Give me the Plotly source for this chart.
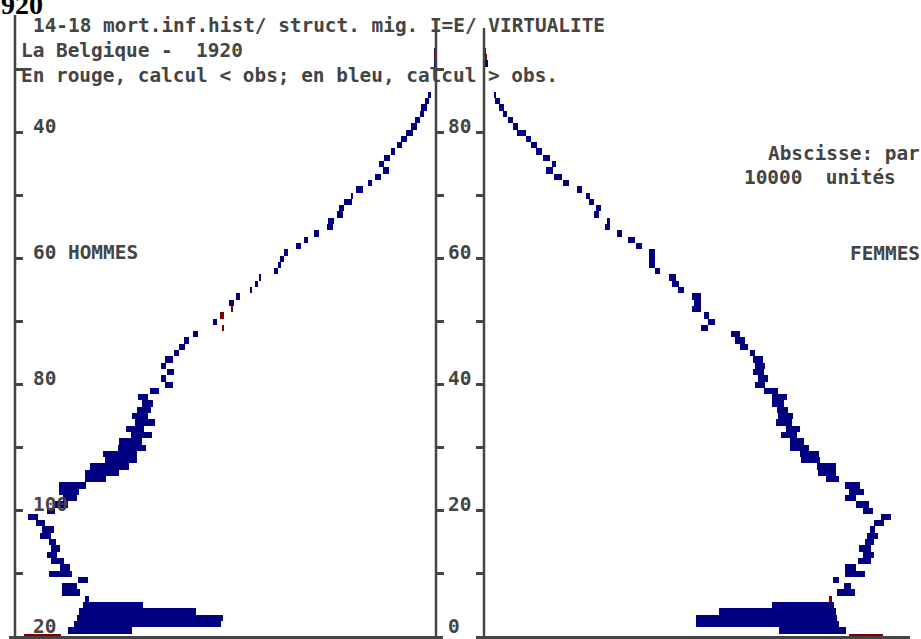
import plotly.graph_objects as go

# Belgique 1920 - hommes / femmes, effectifs par âge (en milliers)
# calcul (structure simulée) et observé ; bleu si calcul > obs, rouge sinon
ages = list(range(94))

men_calc = [75.0, 73.6, 72.4, 71.8, 71.4, 70.6, 70.2, 74.8, 74.8, 71.6,
            77.4, 75.2, 77.0, 77.8, 77.0, 77.4, 79.2, 78.8, 80.0, 81.6,
            77.8, 76.2, 74.6, 75.4, 75.4, 70.2, 70.2, 69.2, 66.2, 66.6,
            63.6, 63.4, 61.0, 62.0, 60.2, 60.8, 59.8, 58.8, 59.6, 57.2,
            54.2, 55.0, 53.8, 55.0, 54.2, 52.4, 51.4, 50.4, 48.6, 42.4,
            44.6, 42.4, 40.6, 41.4, 40.0, 37.2, 36.2, 35.4, 32.4, 31.6,
            31.2, 30.4, 28.0, 26.4, 24.4, 21.8, 21.6, 19.8, 19.4, 18.4,
            17.0, 16.0, 13.6, 12.2, 10.6, 11.4, 10.4, 9.0, 7.8, 7.0,
            6.0, 5.0, 4.2, 3.2, 3.0, 2.2, 1.6, None, None, None,
            None, 0.4, 0.0, 0.4]
men_obs = [82.4, 60.8, 43.0, 42.6, 48.0, 58.6, 69.4, 71.2, 71.8, 69.6,
           72.8, 73.2, 74.4, 75.8, 75.2, 76.0, 77.0, 76.4, 78.2, 79.6,
           76.2, 73.6, 71.8, 71.4, 70.0, 66.0, 63.4, 61.4, 59.8, 59.8,
           58.0, 58.8, 56.8, 58.4, 56.2, 57.6, 57.0, 56.6, 57.6, 55.4,
           52.6, 54.0, 52.4, 54.0, 52.6, 51.4, 50.2, 49.4, 47.6, 42.8,
           43.8, 43.2, 41.0, 40.4, 39.2, 36.8, 35.6, 35.0, 31.6, 31.0,
           30.4, 29.6, 27.0, 25.6, 23.4, 20.6, 20.4, 18.6, 18.4, 16.8,
           16.6, 14.6, 12.8, 11.0, 9.4, 10.4, 9.2, 8.2, 6.8, 5.8,
           4.6, 3.8, 3.2, 2.4, 1.8, 1.4, 1.0, None, None, None,
           None, 0.0, 0.4, 0.0]

women_calc = [73.0, 72.4, 71.0, 70.6, 70.4, 70.0, 69.0, 74.2, 73.4, 71.0,
              76.2, 74.4, 77.4, 78.0, 77.4, 78.0, 78.8, 78.2, 80.0, 81.4,
              77.8, 77.0, 74.4, 76.0, 75.2, 71.0, 70.4, 70.4, 67.2, 67.0,
              65.0, 64.0, 62.6, 63.2, 61.6, 61.8, 60.8, 60.0, 60.6, 58.8,
              56.2, 56.8, 56.0, 56.2, 55.8, 54.2, 52.8, 52.2, 51.2, 44.8,
              46.2, 45.0, 43.4, 43.4, 43.4, 40.0, 39.0, 38.4, 35.2, 34.2,
              34.2, 34.2, 31.6, 30.2, 27.6, 25.2, 25.2, 23.0, 23.4, 22.0,
              21.2, 19.6, 17.0, 15.6, 13.8, 14.4, 13.2, 11.6, 10.6, 9.4,
              8.4, 6.8, 5.8, 4.6, 4.0, 3.2, 2.4, None, None, None,
              None, 0.8, 0.0, 0.0]
women_obs = [79.8, 59.0, 42.4, 42.4, 47.0, 57.6, 69.6, 70.6, 72.0, 69.8,
             72.2, 72.2, 74.8, 75.8, 75.0, 76.2, 76.6, 77.2, 78.0, 79.4,
             75.8, 74.4, 72.2, 73.0, 72.2, 68.4, 66.8, 66.6, 63.4, 63.2,
             61.2, 61.2, 59.4, 60.4, 58.4, 58.8, 58.6, 57.6, 57.6, 56.0,
             54.2, 54.8, 53.8, 54.2, 53.8, 53.2, 51.2, 50.2, 49.4, 43.4,
             44.8, 44.0, 41.6, 42.0, 41.6, 38.8, 37.6, 37.0, 34.2, 33.0,
             33.0, 33.0, 30.4, 28.8, 26.6, 24.2, 24.6, 22.0, 22.4, 21.0,
             20.4, 18.6, 15.8, 14.0, 12.4, 13.6, 11.8, 10.4, 9.4, 8.4,
             6.6, 5.8, 4.8, 3.8, 3.0, 2.2, 2.0, None, None, None,
             None, 0.2, 0.6, 0.4]

left_labels = ["40", "60 HOMMES", "80", "100", "20"]
left_label_ages = [80, 60, 40, 20, 0]
right_labels = ["80", "60", "40", "20", "0"]
right_label_ages = [80, 60, 40, 20, 0]

BLUE = "#000080"
RED = "#800000"
INK = "#444444"
MONO = "DejaVu Sans Mono"

W, H = 921, 639


def X(px):
    return px / W


def Y(py):
    return 1 - py / H


# age scale: 6.3 px per year, age 0 on the baseline
PX_YEAR = 6.3
BASE_PX = 636.7
y_range = [(BASE_PX - H) / PX_YEAR, BASE_PX / PX_YEAR]
PX_UNIT = 5.0  # pixels per thousand


def bars(calc, obs):
    ys, base, length, cols = [], [], [], []
    for a, c, o in zip(ages, calc, obs):
        if c is None or o is None:
            continue
        lo, hi = min(c, o), max(c, o)
        ys.append(a)
        base.append(lo)
        length.append(max(hi - lo, 0.25))
        cols.append(BLUE if c > o else RED)
    return ys, base, length, cols


fig = go.Figure()

my, mb, ml, mc = bars(men_calc, men_obs)
fig.add_trace(go.Bar(orientation="h", y=my, x=ml, base=mb, width=1.0,
                     marker=dict(color=mc, line=dict(width=0)),
                     xaxis="x", yaxis="y", hoverinfo="skip"))

wy, wb, wl, wc = bars(women_calc, women_obs)
fig.add_trace(go.Bar(orientation="h", y=wy, x=wl, base=wb, width=1.0,
                     marker=dict(color=wc, line=dict(width=0)),
                     xaxis="x2", yaxis="y2", hoverinfo="skip"))

# carrier trace for the mirrored tick axis on the centre line
fig.add_trace(go.Scatter(x=[None], y=[None], xaxis="x", yaxis="y3",
                         mode="markers", showlegend=False, hoverinfo="skip"))

left_x0, left_x1 = 15, 436
right_x0 = 484

tick_common = dict(range=y_range, showgrid=False, zeroline=False,
                   showline=False, showticklabels=False,
                   tickcolor=INK, tickwidth=3, fixedrange=True)

fig.update_layout(
    width=W, height=H,
    margin=dict(l=0, r=0, t=0, b=0),
    paper_bgcolor="white", plot_bgcolor="rgba(0,0,0,0)",
    showlegend=False, barmode="overlay", bargap=0,
    xaxis=dict(domain=[X(left_x0), X(left_x1)],
               range=[(left_x1 - left_x0) / PX_UNIT, 0],
               visible=False, anchor="y", fixedrange=True),
    xaxis2=dict(domain=[X(right_x0), 1],
                range=[0, (W - right_x0) / PX_UNIT],
                visible=False, anchor="y2", fixedrange=True),
    yaxis=dict(domain=[0, 1], anchor="x", side="left", ticks="inside",
               ticklen=8, tickvals=list(range(10, 100, 10)), **tick_common),
    yaxis3=dict(domain=[0, 1], anchor="x", overlaying="y", side="right",
                ticks="outside", ticklen=7,
                tickvals=list(range(10, 100, 10)), **tick_common),
    yaxis2=dict(domain=[0, 1], anchor="x2", side="left", ticks="outside",
                ticklen=7, tickvals=list(range(10, 90, 10)), **tick_common),
)

# axis lines
line_style = dict(color=INK, width=2.5)
shapes = [
    dict(type="line", xref="paper", yref="paper",
         x0=X(left_x0), x1=X(left_x0), y0=Y(15), y1=Y(638), line=line_style),
    dict(type="line", xref="paper", yref="paper",
         x0=X(left_x1), x1=X(left_x1), y0=Y(18), y1=Y(638), line=line_style),
    dict(type="line", xref="paper", yref="paper",
         x0=X(right_x0), x1=X(right_x0), y0=Y(28), y1=Y(638), line=line_style),
    dict(type="line", xref="paper", yref="paper",
         x0=X(9), x1=X(443), y0=Y(637.5), y1=Y(637.5),
         line=dict(color=INK, width=3)),
    dict(type="line", xref="paper", yref="paper",
         x0=X(476), x1=X(910), y0=Y(637.5), y1=Y(637.5),
         line=dict(color=INK, width=3)),
]
fig.update_layout(shapes=shapes)

NB = "\u00a0"
text_font = dict(family=MONO, size=19.4, color=INK, weight="bold")


def text(px, py, s, anchor="left"):
    return dict(text=s.replace(" ", NB), xref="paper", yref="paper",
                x=X(px), y=Y(py), xanchor=anchor, yanchor="middle",
                showarrow=False, font=text_font, borderpad=0)


def age_label(lab, a, px, yref):
    # labels sit just above their tick; the baseline one stays inside the page
    return dict(text=lab.replace(" ", NB), xref="paper", yref=yref,
                x=X(px), y=a, xanchor="left", yanchor="bottom",
                yshift=-6 if a > 0 else -2, showarrow=False,
                font=text_font, borderpad=0)


annotations = [
    text(32, 25, "14-18 mort.inf.hist/ struct. mig. I=E/ VIRTUALITE"),
    text(20, 50, "La Belgique -  1920"),
    text(20, 75, "En rouge, calcul < obs; en bleu, calcul > obs."),
    text(767, 153, "Abscisse: par"),
    text(743, 177, "10000  unités"),
    text(849, 254, "FEMMES"),
]
for lab, a in zip(left_labels, left_label_ages):
    annotations.append(age_label(lab, a, 32, "y"))
for lab, a in zip(right_labels, right_label_ages):
    annotations.append(age_label(lab, a, 447, "y2"))

# year heading, partly running off the top-left corner
annotations.append(dict(text="<b>1920</b>", xref="paper", yref="paper",
                        x=X(44), y=Y(21), xanchor="right", yanchor="bottom",
                        showarrow=False, borderpad=0,
                        font=dict(family="Liberation Serif", size=28,
                                  color="black")))
fig.update_layout(annotations=annotations)

fig.write_html("out.html")
